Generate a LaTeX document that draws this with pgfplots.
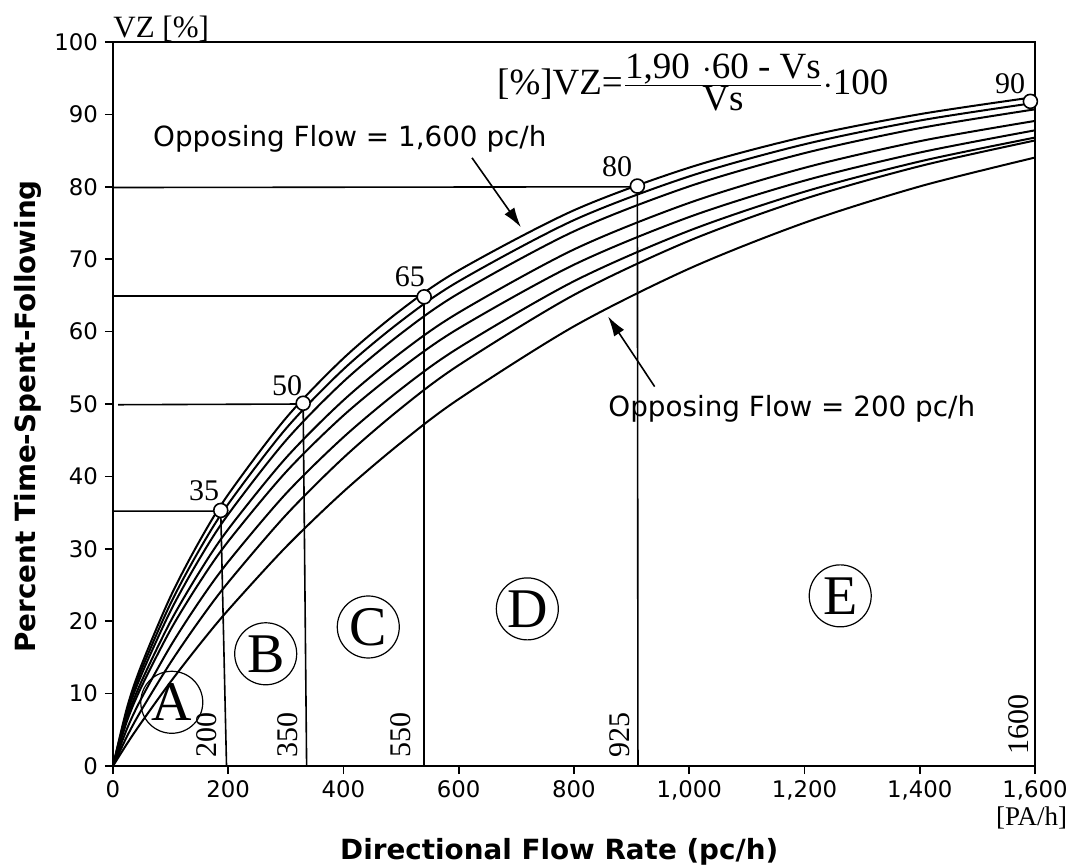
\documentclass[border=0pt]{standalone}
\usepackage{fontspec}
\setmainfont{Liberation Serif}
\newfontfamily\dejavu{DejaVu Sans}
\usepackage{pgfplots}
\usepackage{pgfplotstable}
\pgfplotsset{compat=1.18}
\usetikzlibrary{arrows.meta}

\pgfplotstableread{
x o200 o400 o600 o800 o1000 o1200 o1400 o1600
0 0 0 0 0 0 0 0 0
25 3.16 4.20 5.28 6.36 6.82 7.40 7.83 8.24
50 6.10 7.82 9.45 11.05 11.79 12.73 13.41 14.06
100 11.63 14.30 16.58 18.83 19.99 21.44 22.46 23.43
150 16.76 20.10 22.75 25.34 26.80 28.61 29.87 31.05
200 21.55 25.37 28.21 31.03 32.71 34.77 36.19 37.51
300 30.24 34.65 37.61 40.59 42.54 44.96 46.58 48.04
400 37.90 42.58 45.42 48.42 50.52 53.10 54.80 56.32
500 44.67 49.43 52.08 54.93 57.12 59.74 61.46 63.01
600 50.68 55.36 57.77 60.45 62.63 65.28 66.95 68.46
800 60.73 65.07 66.96 69.24 71.35 73.85 75.40 76.76
1000 68.70 72.55 73.94 75.83 77.78 80.06 81.44 82.65
1200 75.03 78.33 79.32 80.85 82.62 84.65 85.87 86.91
1400 80.05 82.85 83.50 84.73 86.30 88.10 89.15 90.03
1600 84.04 86.40 86.80 87.80 89.10 90.70 91.60 92.40
}\curves

\tikzset{circlet/.style={circle, draw, line width=0.6pt, minimum size=31pt, inner sep=0pt, font=\fontsize{28}{30}\selectfont},
  rotl/.style={rotate=90, anchor=south west, inner sep=1pt, font=\fontsize{15}{15}\selectfont},
  numl/.style={font=\fontsize{15}{15}\selectfont}}

\begin{document}
\begin{tikzpicture}
\begin{axis}[
  width=461pt, height=362pt, scale only axis,
  xmin=0, xmax=1600, ymin=0, ymax=100,
  xtick={0,200,...,1600}, ytick={0,10,...,100},
  tick pos=left, tick align=outside, major tick length=4pt,
  axis line style={line width=1pt},
  tick style={line width=0.8pt, black},
  ticklabel style={font=\dejavu\fontsize{11.4}{13}\selectfont},
  /pgf/number format/assume math mode=true,
  xticklabel style={/pgf/number format/1000 sep={,}},
  yticklabel style={/pgf/number format/1000 sep={}},
  xlabel={Directional Flow Rate (pc/h)},
  ylabel={Percent Time-Spent-Following},
  xlabel style={font=\dejavu\bfseries\fontsize{13.9}{15}\selectfont, at={(axis description cs:0.484,-0.118)}, anchor=center},
  ylabel style={font=\dejavu\bfseries\fontsize{13.9}{15}\selectfont, at={(axis description cs:-0.092,0.483)}, anchor=center},
  clip=false,
]
\pgfplotsinvokeforeach{o200,o400,o600,o800,o1000,o1200,o1400,o1600}{
  \addplot[black, line width=1pt, smooth, no marks] table[x=x, y=#1] {\curves};
}
% guide lines
\addplot[black, line width=0.8pt, no marks] coordinates {(0,35.2) (187,35.2) (197,0)};
\addplot[black, line width=0.8pt, no marks] coordinates {(9,49.9) (330,50.0) (336,0)};
\addplot[black, line width=0.8pt, no marks] coordinates {(0,64.9) (540,64.9) (540,0)};
\addplot[black, line width=0.8pt, no marks] coordinates {(0,79.9) (910,80.0) (911,0)};
% circles
\addplot[only marks, mark=*, mark size=3.5pt, mark options={fill=white, draw=black, line width=0.8pt}]
  coordinates {(187,35.3) (330,50.1) (540,64.8) (910,80.1) (1592,91.8)};

% number labels
\node[numl] at (axis cs:158,38.0) {35};
\node[numl] at (axis cs:302,52.6) {50};
\node[numl] at (axis cs:515,67.6) {65};
\node[numl] at (axis cs:875,82.8) {80};
\node[numl] at (axis cs:1557,94.3) {90};

% rotated labels
\node[rotl] at (axis cs:184,0.8) {200};
\node[rotl] at (axis cs:325,0.8) {350};
\node[rotl] at (axis cs:521,0.8) {550};
\node[rotl] at (axis cs:901,0.8) {925};
\node[rotl] at (axis cs:1593,1.2) {1600};

% circled letters
\node[circlet] at (axis cs:102,8.8) {A};
\node[circlet] at (axis cs:265,15.5) {B};
\node[circlet] at (axis cs:443,19.2) {C};
\node[circlet] at (axis cs:719,21.7) {D};
\node[circlet] at (axis cs:1262,23.5) {E};

% texts
\node[anchor=base west, inner sep=0pt, font=\fontsize{15.5}{16}\selectfont] at (axis cs:0,100.6) {VZ [\%]};
\node[anchor=base west, inner sep=0pt, font=\fontsize{18.5}{20}\selectfont] at (axis cs:666,92.8)
  {[\%]VZ=$\frac{\mbox{1,90\,\,$\cdot$60 - Vs}}{\mbox{Vs}}$$\cdot$100};
\node[anchor=center, inner sep=0pt, font=\fontsize{13.5}{15}\selectfont] at (axis cs:1594,-7.2) {[PA/h]};

\node[anchor=west, inner sep=0pt, font=\dejavu\fontsize{13.9}{15}\selectfont] at (axis cs:69,86.6) {Opposing Flow = 1,600 pc/h};
\node[anchor=west, inner sep=0pt, font=\dejavu\fontsize{13.9}{15}\selectfont] at (axis cs:859,49.4) {Opposing Flow = 200 pc/h};

\draw[line width=0.8pt, -{Latex[length=10pt,width=6pt]}] (axis cs:623,84.0) -- (axis cs:708,74.4);
\draw[line width=0.8pt, -{Latex[length=10pt,width=6pt]}] (axis cs:940,52.4) -- (axis cs:859,62.1);
\end{axis}
\pgfresetboundingbox
\path[use as bounding box] ([shift={(-56.5pt,-51pt)}]current axis.south west) rectangle ([shift={(18.5pt,21pt)}]current axis.north east);
\end{tikzpicture}
\end{document}
